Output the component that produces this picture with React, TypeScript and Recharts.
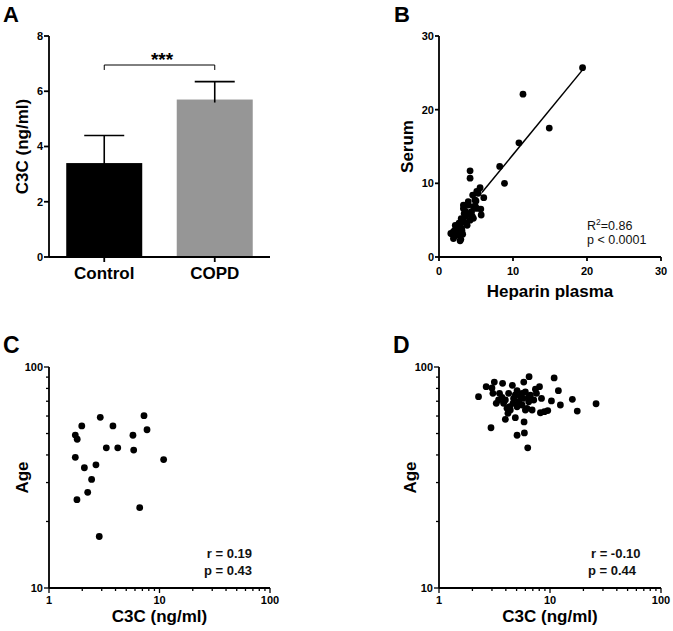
import React from 'react';
import {
  BarChart, Bar, XAxis, YAxis, ScatterChart, Scatter, ReferenceLine,
} from 'recharts';

const FONT = '"Liberation Sans", Arial, Helvetica, sans-serif';

// Panel A
const groups = ['Control', 'COPD'];
const groupMeans = [3.4, 5.7];
const groupErr = [1.0, 0.65];
const barColors = ['#000000', '#969696'];
const aTicks = [0, 2, 4, 6, 8];
const sigLevel = 6.95;
const sigTick = 6.77;

// Panel B
const heparin = [19.4, 11.35, 14.9, 10.8, 8.2, 8.85, 4.2, 4.2, 5.55, 6.05, 5.1, 4.55, 5.65, 5.7, 3.4, 3.3, 3.95, 4.65, 2.4, 1.6, 2.85, 1.95, 3.2, 1.8, 2.15, 2.6, 2.95, 2.85, 3.3, 3.75, 3.5, 4.2, 4.65, 3.3, 3.95, 4.4, 5.1, 4.85, 5.3, 2.4, 1.95, 3.05, 2.2, 2.7, 3.0, 3.6, 4.0, 4.9, 2.5, 3.8, 4.5, 5.0, 2.1, 3.1];
const serum = [25.7, 22.1, 17.5, 15.5, 12.3, 10.0, 11.7, 10.7, 9.4, 8.05, 8.9, 8.4, 6.5, 5.7, 5.9, 7.05, 7.5, 6.85, 4.1, 3.2, 2.2, 2.5, 3.1, 3.1, 3.65, 4.1, 2.4, 3.2, 4.8, 4.55, 5.45, 5.0, 5.25, 6.6, 7.05, 6.15, 6.6, 7.75, 8.65, 3.65, 3.45, 3.9, 4.3, 4.6, 5.2, 6.2, 5.8, 6.9, 3.0, 4.3, 5.5, 7.6, 2.8, 3.6];
const bTicks = [0, 10, 20, 30];
const fitStart = { x: 5.8, y: 8.75 };
const fitEnd = { x: 19.4, y: 25.4 };

// Panel C
const cC3C = [2.91, 7.24, 1.98, 3.79, 7.71, 1.73, 1.80, 5.75, 3.30, 4.19, 5.84, 1.73, 10.9, 2.09, 2.66, 2.43, 2.24, 1.79, 6.62, 2.85];
const cAge = [59.2, 60.2, 54.1, 54.1, 52.0, 49.2, 47.1, 49.1, 43.1, 43.1, 42.1, 39.0, 38.1, 35.0, 36.1, 31.0, 27.1, 25.1, 23.1, 17.1];

// Panel D
const dC3C = [6.48, 10.9, 3.15, 3.74, 2.66, 5.80, 4.58, 8.04, 7.39, 11.9, 2.27, 3.00, 3.06, 3.51, 3.28, 3.96, 4.24, 5.05, 5.41, 6.00, 6.66, 7.14, 8.38, 10.3, 12.4, 15.9, 17.6, 26.0, 8.20, 8.91, 9.55, 4.33, 4.64, 5.05, 5.60, 6.21, 6.90, 3.96, 4.87, 5.84, 2.94, 5.88, 5.05, 6.30, 4.39, 4.70, 5.22, 6.43, 6.00, 4.10, 3.69, 3.44, 5.72, 7.55, 4.18, 4.87, 3.82, 6.43, 5.60];
const dAge = [90.4, 89.2, 85.5, 84.4, 81.5, 85.5, 82.6, 81.5, 79.3, 78.1, 73.4, 80.4, 76.0, 76.0, 68.5, 70.9, 76.0, 78.1, 73.4, 77.1, 74.5, 70.9, 72.1, 70.2, 67.3, 71.4, 63.2, 68.2, 62.1, 62.8, 63.5, 66.1, 68.5, 66.1, 67.3, 65.0, 63.9, 58.0, 59.0, 56.4, 53.1, 50.3, 49.1, 43.1, 63.9, 72.1, 69.7, 69.7, 63.9, 65.0, 72.9, 70.9, 72.1, 76.0, 61.7, 74.7, 68.5, 73.4, 76.0];

const logXTicks = [1, 2, 3, 4, 5, 6, 7, 8, 9, 10, 20, 30, 40, 50, 60, 70, 80, 90, 100];
const logYTicks = [10, 20, 30, 40, 50, 60, 70, 80, 90, 100];
const majorX = [1, 10, 100];
const majorY = [10, 100];

const barData = groups.map((g, i) => ({ name: g, value: groupMeans[i], err: groupErr[i], color: barColors[i] }));
const bData = heparin.map((h, i) => ({ x: h, y: serum[i] }));
const cData = cC3C.map((v, i) => ({ x: v, y: cAge[i] }));
const dData = dC3C.map((v, i) => ({ x: v, y: dAge[i] }));

const axisStroke = { stroke: '#000', strokeWidth: 1.8 };
const tickStyle = { fontSize: 11, fontWeight: 'bold', fill: '#000', fontFamily: FONT };

const BarWithErr = (props: any) => {
  const { x, y, width, height, payload } = props;
  const ppu = height / payload.value;
  const top = y - payload.err * ppu;
  const cx = x + width / 2;
  return (
    <g>
      <rect x={x} y={y} width={width} height={height} fill={payload.color} />
      <line x1={cx} x2={cx} y1={y + 3} y2={top} stroke="#000" strokeWidth={1.6} />
      <line x1={cx - 20} x2={cx + 20} y1={top} y2={top} stroke="#000" strokeWidth={1.6} />
    </g>
  );
};

const Dot = (props: any) => <circle cx={props.cx} cy={props.cy} r={3.4} fill="#000" />;

const LogTickX = (props: any) => {
  const { x, y, payload } = props;
  const v = payload.value;
  const major = majorX.includes(v);
  return (
    <g>
      <line x1={x} x2={x} y1={y} y2={y + (major ? 5 : 3)} stroke="#000" strokeWidth={1.3} />
      {major && (
        <text x={x} y={y + 8} dy="0.71em" textAnchor="middle" {...tickStyle}>{v}</text>
      )}
    </g>
  );
};

const LogTickY = (props: any) => {
  const { x, y, payload } = props;
  const v = payload.value;
  const major = majorY.includes(v);
  return (
    <g>
      <line x1={x} x2={x - (major ? 5 : 3)} y1={y} y2={y} stroke="#000" strokeWidth={1.3} />
      {major && (
        <text x={x - 6} y={y} dy="0.355em" textAnchor="end" {...tickStyle}>{v}</text>
      )}
    </g>
  );
};

const titleStyle = { fontSize: 17, fontWeight: 'bold', fill: '#000', fontFamily: FONT };
const letterStyle = { fontSize: 22, fontWeight: 'bold', fill: '#000', fontFamily: FONT };
const statStyle = { fontSize: 13, fontWeight: 'bold', fill: '#111', fontFamily: FONT };

export default function App() {
  return (
    <div style={{ position: 'absolute', left: 0, top: 0, width: 673, height: 631, background: '#fff', fontFamily: FONT }}>
      {/* Panel A */}
      <div style={{ position: 'absolute', left: 0, top: 0 }}>
        <BarChart width={336} height={310} data={barData} margin={{ top: 36, right: 66, bottom: 10, left: 0 }} barCategoryGap="15.6%">
          <XAxis dataKey="name" axisLine={axisStroke} tickLine={axisStroke} tickSize={5} tickMargin={5} height={43}
            tick={{ ...titleStyle }} interval={0} />
          <YAxis type="number" domain={[0, 8]} ticks={aTicks} width={49} axisLine={axisStroke} tickLine={axisStroke}
            tickSize={5} tickMargin={1} tick={tickStyle} interval={0} />
          <Bar dataKey="value" isAnimationActive={false} shape={<BarWithErr />} />
          <ReferenceLine segment={[{ x: 'Control', y: sigLevel }, { x: 'COPD', y: sigLevel }]} stroke="#000" strokeWidth={1} />
          <ReferenceLine segment={[{ x: 'Control', y: sigLevel }, { x: 'Control', y: sigTick }]} stroke="#000" strokeWidth={1} />
          <ReferenceLine segment={[{ x: 'COPD', y: sigLevel }, { x: 'COPD', y: sigTick }]} stroke="#000" strokeWidth={1} />
          <text x={162} y={66} textAnchor="middle" fontSize={19} fontWeight="bold" fontFamily={FONT} fill="#000">***</text>
          <text transform="translate(28,146.5) rotate(-90)" textAnchor="middle" {...titleStyle}>C3C (ng/ml)</text>
          <text x={3} y={22} {...letterStyle}>A</text>
        </BarChart>
      </div>

      {/* Panel B */}
      <div style={{ position: 'absolute', left: 336, top: 0 }}>
        <ScatterChart width={337} height={310} margin={{ top: 36, right: 12, bottom: 10, left: 54 }}>
          <XAxis type="number" dataKey="x" domain={[0, 30]} ticks={bTicks} axisLine={axisStroke} tickLine={axisStroke}
            tickSize={4} tickMargin={6} height={43} tick={tickStyle} interval={0} />
          <YAxis type="number" dataKey="y" domain={[0, 30]} ticks={bTicks} width={49} axisLine={axisStroke} tickLine={axisStroke}
            tickSize={4} tickMargin={1} tick={tickStyle} interval={0} />
          <Scatter data={bData} isAnimationActive={false} shape={<Dot />} />
          <ReferenceLine segment={[fitStart, fitEnd]} stroke="#000" strokeWidth={1.5} />
          <text x={251} y={229.5} fontSize={12.5} fontFamily={FONT} fill="#111">
            <tspan>R</tspan>
            <tspan dy={-5} fontSize={8.5}>2</tspan>
            <tspan dy={5}>=0.86</tspan>
          </text>
          <text x={251} y={243.5} fontSize={12.5} fontFamily={FONT} fill="#111">p &lt; 0.0001</text>
          <text transform="translate(77,146.5) rotate(-90)" textAnchor="middle" {...titleStyle}>Serum</text>
          <text x={214} y={297} textAnchor="middle" {...titleStyle}>Heparin plasma</text>
          <text x={58} y={22} {...letterStyle}>B</text>
        </ScatterChart>
      </div>

      {/* Panel C */}
      <div style={{ position: 'absolute', left: 0, top: 310 }}>
        <ScatterChart width={336} height={321} margin={{ top: 57, right: 66, bottom: 0, left: 0 }}>
          <XAxis type="number" dataKey="x" scale="log" domain={[1, 100]} ticks={logXTicks} allowDataOverflow
            axisLine={axisStroke} tickLine={false} tickSize={0} tickMargin={0} height={43} tick={<LogTickX />} interval={0} />
          <YAxis type="number" dataKey="y" scale="log" domain={[10, 100]} ticks={logYTicks} allowDataOverflow width={49}
            axisLine={axisStroke} tickLine={false} tickSize={0} tickMargin={0} tick={<LogTickY />} interval={0} />
          <Scatter data={cData} isAnimationActive={false} shape={<Dot />} />
          <text x={252} y={248.3} textAnchor="end" {...statStyle}>r = 0.19</text>
          <text x={252} y={265} textAnchor="end" {...statStyle}>p = 0.43</text>
          <text transform="translate(28,167.5) rotate(-90)" textAnchor="middle" {...titleStyle}>Age</text>
          <text x={159.5} y={312} textAnchor="middle" {...titleStyle}>C3C (ng/ml)</text>
          <text x={3} y={42.5} {...letterStyle} fontSize={23}>C</text>
        </ScatterChart>
      </div>

      {/* Panel D */}
      <div style={{ position: 'absolute', left: 336, top: 310 }}>
        <ScatterChart width={337} height={321} margin={{ top: 57, right: 12, bottom: 0, left: 54 }}>
          <XAxis type="number" dataKey="x" scale="log" domain={[1, 100]} ticks={logXTicks} allowDataOverflow
            axisLine={axisStroke} tickLine={false} tickSize={0} tickMargin={0} height={43} tick={<LogTickX />} interval={0} />
          <YAxis type="number" dataKey="y" scale="log" domain={[10, 100]} ticks={logYTicks} allowDataOverflow width={49}
            axisLine={axisStroke} tickLine={false} tickSize={0} tickMargin={0} tick={<LogTickY />} interval={0} />
          <Scatter data={dData} isAnimationActive={false} shape={<Dot />} />
          <text x={255} y={248.3} {...statStyle}>r = -0.10</text>
          <text x={252} y={265} {...statStyle}>p = 0.44</text>
          <text transform="translate(80,167.5) rotate(-90)" textAnchor="middle" {...titleStyle}>Age</text>
          <text x={214} y={312} textAnchor="middle" {...titleStyle}>C3C (ng/ml)</text>
          <text x={57} y={42.5} {...letterStyle} fontSize={23}>D</text>
        </ScatterChart>
      </div>
    </div>
  );
}
